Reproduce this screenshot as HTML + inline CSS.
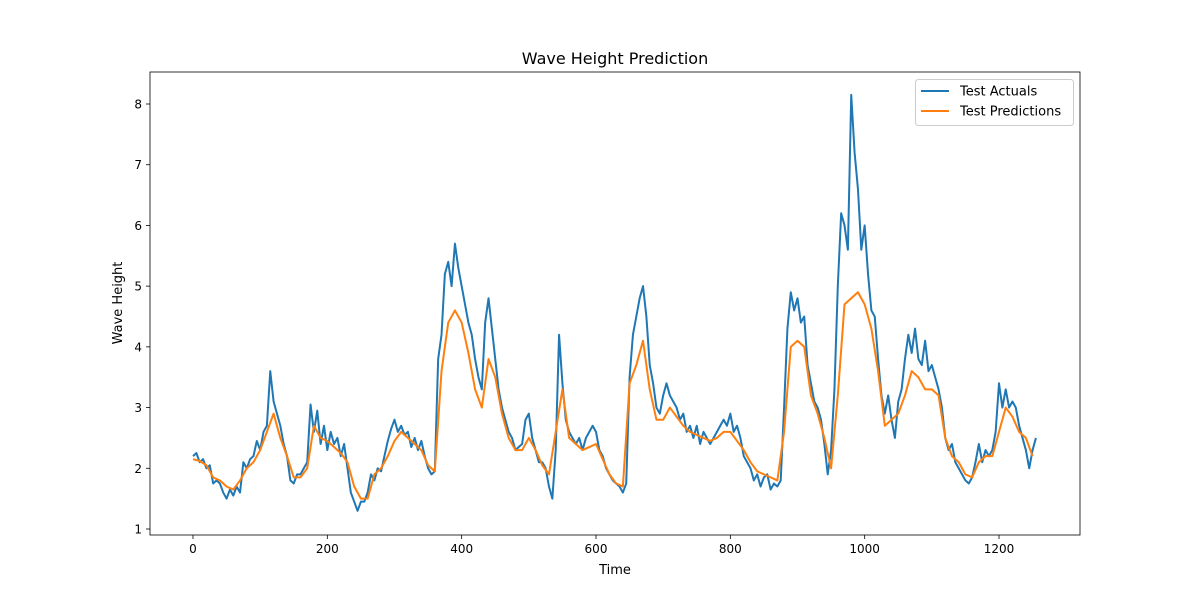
<!DOCTYPE html>
<html><head><meta charset="utf-8"><style>
body{margin:0;background:#fff;font-family:"Liberation Sans","DejaVu Sans",sans-serif}
svg{display:block}
text{font-family:"DejaVu Sans","Liberation Sans",sans-serif;fill:#000}
</style></head><body>
<svg id="chart" width="1200" height="600" viewBox="0 0 1200 600"></svg>
<script>
const actStep = 5;
const actuals = [2.2,2.25,2.1,2.15,2.0,2.05,1.75,1.8,1.75,1.6,1.5,1.65,1.55,1.7,1.6,2.1,2.0,2.15,2.2,2.45,2.3,2.6,2.7,3.6,3.1,2.9,2.7,2.4,2.2,1.8,1.75,1.9,1.9,2.0,2.1,3.05,2.6,2.95,2.4,2.7,2.3,2.6,2.4,2.5,2.2,2.4,2.0,1.6,1.45,1.3,1.45,1.45,1.6,1.9,1.8,2.0,1.95,2.2,2.45,2.65,2.8,2.6,2.7,2.55,2.6,2.35,2.5,2.3,2.45,2.2,2.0,1.9,1.95,3.8,4.2,5.2,5.4,5.0,5.7,5.3,5.0,4.7,4.4,4.2,3.8,3.5,3.3,4.4,4.8,4.3,3.8,3.3,3.0,2.8,2.6,2.5,2.3,2.35,2.4,2.8,2.9,2.5,2.3,2.1,2.1,2.0,1.7,1.5,2.3,4.2,3.4,2.8,2.6,2.5,2.4,2.5,2.3,2.5,2.6,2.7,2.6,2.3,2.2,2.0,1.9,1.8,1.75,1.7,1.6,1.75,3.5,4.2,4.5,4.8,5.0,4.5,3.7,3.4,3.0,2.9,3.2,3.4,3.2,3.1,3.0,2.8,2.9,2.6,2.7,2.5,2.7,2.4,2.6,2.5,2.4,2.5,2.6,2.7,2.8,2.7,2.9,2.6,2.7,2.5,2.2,2.1,2.0,1.8,1.9,1.7,1.85,1.9,1.65,1.75,1.7,1.8,3.0,4.3,4.9,4.6,4.8,4.4,4.5,3.7,3.4,3.1,3.0,2.8,2.4,1.9,2.3,3.3,5.0,6.2,6.0,5.6,8.15,7.2,6.6,5.6,6.0,5.2,4.6,4.5,3.8,3.2,2.9,3.2,2.8,2.5,3.1,3.3,3.8,4.2,3.9,4.3,3.8,3.7,4.1,3.6,3.7,3.5,3.3,3.0,2.5,2.3,2.4,2.1,2.0,1.9,1.8,1.75,1.85,2.1,2.4,2.1,2.3,2.2,2.3,2.6,3.4,3.0,3.3,3.0,3.1,3.0,2.7,2.5,2.3,2.0,2.3,2.5];
const predStep = 10;
const predictions = [2.15,2.12,2.05,1.85,1.8,1.7,1.65,1.8,2.0,2.1,2.3,2.6,2.9,2.5,2.2,1.85,1.85,2.0,2.7,2.5,2.45,2.35,2.25,2.1,1.7,1.5,1.5,1.9,2.0,2.2,2.45,2.6,2.5,2.4,2.3,2.05,1.95,3.6,4.4,4.6,4.4,3.9,3.3,3.0,3.8,3.5,2.9,2.5,2.3,2.3,2.5,2.3,2.05,1.9,2.6,3.3,2.5,2.4,2.3,2.35,2.4,2.15,1.9,1.75,1.7,3.4,3.7,4.1,3.3,2.8,2.8,3.0,2.85,2.7,2.6,2.55,2.5,2.45,2.5,2.6,2.6,2.45,2.3,2.1,1.95,1.9,1.85,1.8,2.6,4.0,4.1,4.0,3.2,2.9,2.5,2.0,3.2,4.7,4.8,4.9,4.7,4.3,3.6,2.7,2.8,2.9,3.2,3.6,3.5,3.3,3.3,3.2,2.5,2.2,2.1,1.9,1.85,2.1,2.2,2.2,2.6,3.0,2.85,2.6,2.5,2.2];
const xTicks = [0,200,400,600,800,1000,1200];
const yTicks = [1,2,3,4,5,6,7,8];

const NS = "http://www.w3.org/2000/svg";
const svg = document.getElementById("chart");
const L=150,R=1080,T=72,B=535;
const X = v => 193 + v*(806/1200);
const Y = v => 529 - (v-1)*(425/7);
function el(tag, attrs, parent){const e=document.createElementNS(NS,tag);for(const k in attrs)e.setAttribute(k,attrs[k]);(parent||svg).appendChild(e);return e;}

const title = el("text",{x:615,y:64,"text-anchor":"middle","font-size":"16"});
title.textContent="Wave Height Prediction";



xTicks.forEach(t=>{
  const g = el("g",{});
  
  
  el("line",{x1:X(t),x2:X(t),y1:B,y2:B+4,stroke:"#000","stroke-width":0.8},g);
  const tx = el("text",{x:X(t),y:B+18,"text-anchor":"middle","font-size":"12"},g);
  tx.textContent=t;
});
yTicks.forEach(t=>{
  const g = el("g",{});
  
  
  el("line",{x1:L-4,x2:L,y1:Y(t),y2:Y(t),stroke:"#000","stroke-width":0.8},g);
  const tx = el("text",{x:L-8,y:Y(t)+4.5,"text-anchor":"end","font-size":"12"},g);
  tx.textContent=t;
});
const xl = el("text",{x:615,y:574,"text-anchor":"middle","font-size":"13"});
xl.textContent="Time";


const yl = el("text",{x:0,y:0,"text-anchor":"middle","font-size":"13",transform:"translate(122,303) rotate(-90)"});
yl.textContent="Wave Height";



const clip = el("clipPath",{id:"pc"}); el("rect",{x:L,y:T,width:R-L,height:B-T},clip);
const a = el("polyline",{points:actuals.map((v,i)=>X(i*actStep)+","+Y(v)).join(" "),fill:"none",stroke:"#1f77b4","stroke-width":2,"stroke-linejoin":"round","clip-path":"url(#pc)"});


const p = el("polyline",{points:predictions.map((v,i)=>X(i*predStep)+","+Y(v)).join(" "),fill:"none",stroke:"#ff7f0e","stroke-width":2,"stroke-linejoin":"round","clip-path":"url(#pc)"});



const frame = el("rect",{x:L,y:T,width:R-L,height:B-T,fill:"none",stroke:"#000","stroke-width":0.8});



const lg = el("g",{});


el("rect",{x:915.5,y:79.5,width:158,height:46,rx:3,fill:"#fff",stroke:"#ccc","stroke-width":1},lg);
[["Test Actuals","#1f77b4",91],["Test Predictions","#ff7f0e",111]].forEach(([n,c,y])=>{
  const g = el("g",{},lg);
  
  
  el("line",{x1:921,x2:949,y1:y,y2:y,stroke:c,"stroke-width":2},g);
  const t = el("text",{x:960,y:y+4.5,"font-size":"13"},g);
  t.textContent=n;
});
</script>
</body></html>
